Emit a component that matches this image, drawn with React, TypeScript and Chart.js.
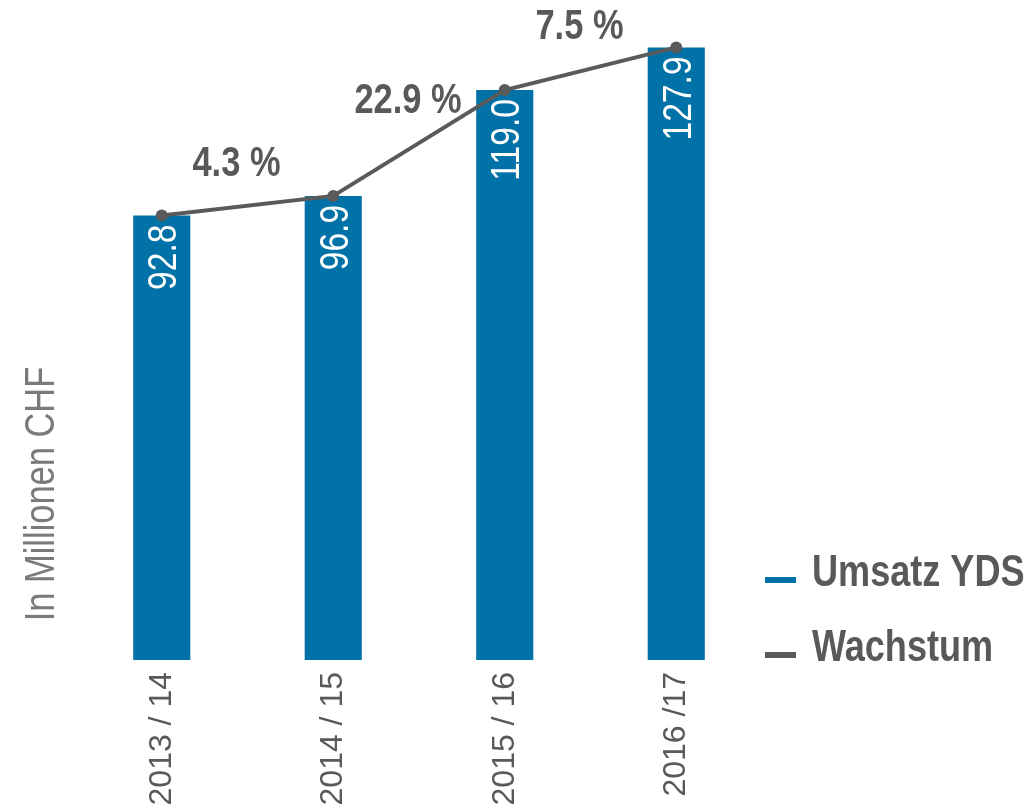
import React, { useEffect, useRef } from "react";
import { Chart, registerables } from "chart.js";

Chart.register(...registerables);

// ---- data ----
const categories = ["2013 / 14", "2014 / 15", "2015 / 16", "2016 /17"];
const revenue = [92.8, 96.9, 119.0, 127.9];
const growthLabels = ["4.3 %", "22.9 %", "7.5 %"];
const seriesNames = ["Umsatz YDS", "Wachstum"];
const yAxisTitle = "In Millionen CHF";

// ---- styles ----
const FONT = "'Liberation Sans', Arial, sans-serif";
const NARROW = 0.82; // horizontal squeeze to imitate a narrow face
const BLUE = "#0072a7";
const GRAY = "#5a5a5a";
const TEXT = "#595959";
const LIGHT = "#7a7a7a";

function narrowText(
  ctx: CanvasRenderingContext2D,
  text: string,
  x: number,
  y: number,
  angle: number,
  align: CanvasTextAlign
) {
  ctx.save();
  ctx.translate(x, y);
  ctx.rotate(angle);
  ctx.scale(NARROW, 1);
  ctx.textAlign = align;
  ctx.textBaseline = "alphabetic";
  ctx.fillText(text, 0, 0);
  ctx.restore();
}

const overlayPlugin = {
  id: "overlay",
  afterDatasetsDraw(chart: any) {
    const ctx = chart.ctx as CanvasRenderingContext2D;
    const area = chart.chartArea;
    const barMeta = chart.getDatasetMeta(0);
    const lineMeta = chart.getDatasetMeta(1);
    ctx.save();

    // values inside bars (rotated, reading upwards)
    ctx.fillStyle = "#ffffff";
    const vSize = 41;
    ctx.font = `400 ${vSize}px ${FONT}`;
    barMeta.data.forEach((bar: any, i: number) => {
      narrowText(ctx, revenue[i].toFixed(1), bar.x + 0.358 * vSize, bar.y + 9, -Math.PI / 2, "right");
    });

    // growth labels above line segments
    ctx.fillStyle = TEXT;
    ctx.font = `700 42px ${FONT}`;
    growthLabels.forEach((lab, k) => {
      const a = lineMeta.data[k];
      const b = lineMeta.data[k + 1];
      const mx = (a.x + b.x) / 2;
      const my = (a.y + b.y) / 2;
      narrowText(ctx, lab, mx - 11, my - 30, 0, "center");
    });

    // y axis title
    ctx.fillStyle = LIGHT;
    ctx.font = `400 42px ${FONT}`;
    narrowText(ctx, yAxisTitle, area.left - 22, area.bottom - 166, -Math.PI / 2, "center");

    // legend
    const colors = [BLUE, GRAY];
    const baselines = [586, 661];
    ctx.font = `700 44px ${FONT}`;
    chart.data.datasets.forEach((ds: any, i: number) => {
      ctx.fillStyle = colors[i];
      ctx.fillRect(area.right + 3, baselines[i] - 9, 31, 6);
      ctx.fillStyle = TEXT;
      narrowText(ctx, ds.label, area.right + 50, baselines[i], 0, "left");
    });

    ctx.restore();
  },
};

export default function App() {
  const ref = useRef<HTMLCanvasElement | null>(null);

  useEffect(() => {
    if (!ref.current) return;
    const chart = new Chart(ref.current, {
      type: "bar",
      data: {
        labels: categories,
        datasets: [
          {
            type: "bar",
            label: seriesNames[0],
            data: revenue,
            backgroundColor: BLUE,
            borderWidth: 0,
            barPercentage: 0.333,
            categoryPercentage: 1,
            order: 2,
          } as any,
          {
            type: "line",
            label: seriesNames[1],
            data: revenue,
            borderColor: GRAY,
            backgroundColor: GRAY,
            borderWidth: 4,
            pointRadius: 6,
            pointBackgroundColor: GRAY,
            pointBorderWidth: 0,
            tension: 0,
            clip: false,
            order: 1,
          } as any,
        ],
      },
      options: {
        responsive: false,
        animation: false,
        events: [],
        layout: { padding: { left: 76, right: 268, top: 13.4, bottom: 0 } },
        plugins: {
          legend: { display: false },
          tooltip: { enabled: false },
          title: { display: false },
        },
        scales: {
          x: {
            grid: { display: false, drawTicks: false },
            border: { display: false },
            ticks: {
              color: TEXT,
              font: { family: FONT, size: 32 },
              minRotation: 90,
              maxRotation: 90,
              padding: 12,
              autoSkip: false,
            },
            afterFit: (axis: any) => {
              axis.height = 151;
            },
          },
          y: {
            display: false,
            min: 0,
            max: 135,
          },
        },
      },
      plugins: [overlayPlugin],
    });
    return () => chart.destroy();
  }, []);

  return (
    <div style={{ position: "absolute", left: 0, top: 0, width: 1030, height: 811 }}>
      <canvas ref={ref} width={1030} height={811} style={{ display: "block" }} />
    </div>
  );
}
